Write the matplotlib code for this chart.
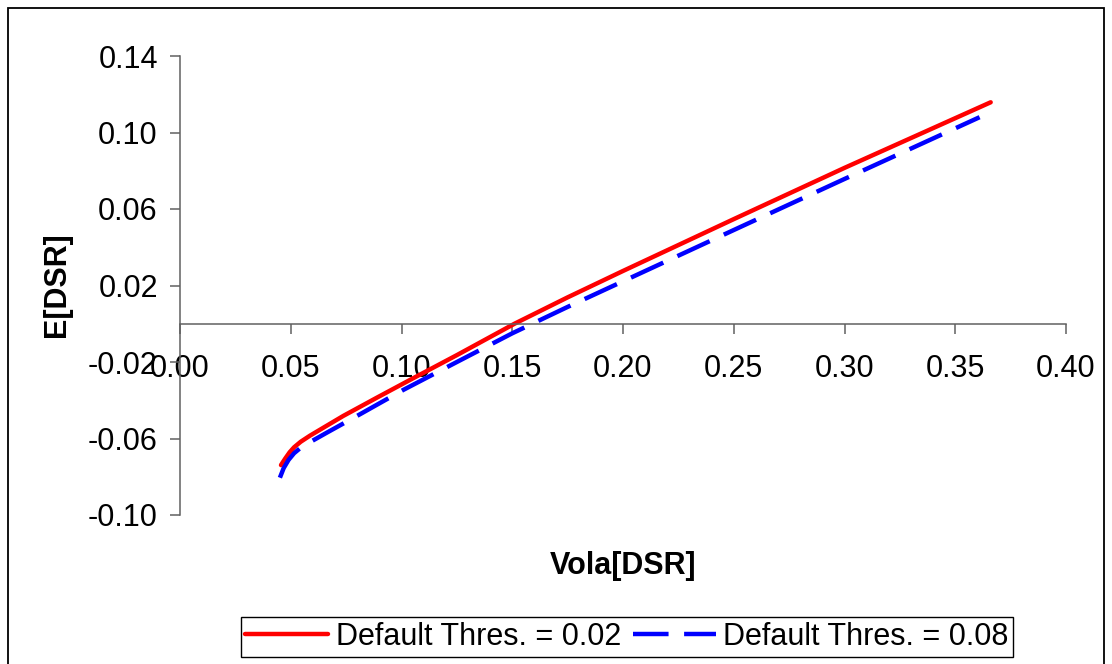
import matplotlib
matplotlib.use('Agg')
import matplotlib.pyplot as plt
from matplotlib.patches import Rectangle

plt.rcParams['font.family'] = ['Liberation Sans', 'DejaVu Sans']

# volatility of DSR vs expected DSR, two default thresholds
vola_002 = [0.0456, 0.0475, 0.0495, 0.0515, 0.0545, 0.0587, 0.0737, 0.0888, 0.1038, 0.125, 0.151,
            0.175, 0.200, 0.250, 0.300, 0.366]
edsr_002 = [-0.0739, -0.0705, -0.0672, -0.0646, -0.0617, -0.0585, -0.0482, -0.0387, -0.0294, -0.0164, 0.0000,
            0.0138, 0.0276, 0.0547, 0.0815, 0.1158]

vola_008 = [0.0451, 0.0468, 0.0490, 0.0515, 0.0545, 0.0590, 0.0662, 0.0813, 0.1008, 0.125, 0.150,
            0.175, 0.200, 0.250, 0.300, 0.361]
edsr_008 = [-0.0805, -0.0755, -0.0712, -0.0677, -0.0648, -0.0617, -0.0570, -0.0473, -0.0346, -0.0200, -0.0050,
            0.0088, 0.0222, 0.0490, 0.0757, 0.108]

xticks = [0.00, 0.05, 0.10, 0.15, 0.20, 0.25, 0.30, 0.35, 0.40]
yticks = [-0.10, -0.06, -0.02, 0.02, 0.06, 0.10, 0.14]

W, H = 1112, 664
fs = 22
fig = plt.figure(figsize=(W / 100, H / 100), dpi=100)
ax = fig.add_axes([180 / W, 1 - 515 / H, 886 / W, 459 / H])

ax.plot(vola_002, edsr_002, color='#ff0000', lw=3.2, solid_capstyle='round',
        solid_joinstyle='round', label='Default Thres. = 0.02')
ax.plot(vola_008, edsr_008, color='#0000ff', lw=3.2, dashes=(8, 3.5),
        label='Default Thres. = 0.08')

ax.set_xlim(0, 0.40)
ax.set_ylim(-0.10, 0.14)
ax.set_xticks(xticks)
ax.set_yticks(yticks)
ax.set_xticklabels(['%.2f' % v for v in xticks])
ax.set_yticklabels(['%.2f' % v for v in yticks])

for s in ['top', 'right']:
    ax.spines[s].set_visible(False)
ax.spines['bottom'].set_position(('data', 0))
for s in ['left', 'bottom']:
    ax.spines[s].set_color('#606060')
    ax.spines[s].set_linewidth(1.1)

ax.tick_params(axis='both', direction='out', length=7, width=1.1, color='#606060',
               labelsize=fs, labelcolor='black')
ax.tick_params(axis='x', pad=15)
ax.tick_params(axis='y', pad=9)

fig.text(623 / W, 1 - 566 / H, 'Vola[DSR]', fontsize=fs, fontweight='bold',
         ha='center', va='center')
fig.text(57 / W, 1 - 285 / H, 'E[DSR]', fontsize=fs, fontweight='bold',
         ha='center', va='center', rotation=90)

leg = fig.legend(loc='center', bbox_to_anchor=(627 / W, 1 - 637 / H), ncol=2,
                 fontsize=fs, frameon=True, fancybox=False, framealpha=1,
                 edgecolor='black', borderpad=0.15, handlelength=2.7,
                 handletextpad=0.25, columnspacing=0.4, borderaxespad=0)
leg.get_frame().set_linewidth(1.0)

# outer chart border
fig.patches.append(Rectangle((8 / W, -0.05), 1096 / W, 1 - 8 / H + 0.05,
                             transform=fig.transFigure, fill=False,
                             edgecolor='black', lw=1.3))

fig.savefig('out.png', dpi=100)
